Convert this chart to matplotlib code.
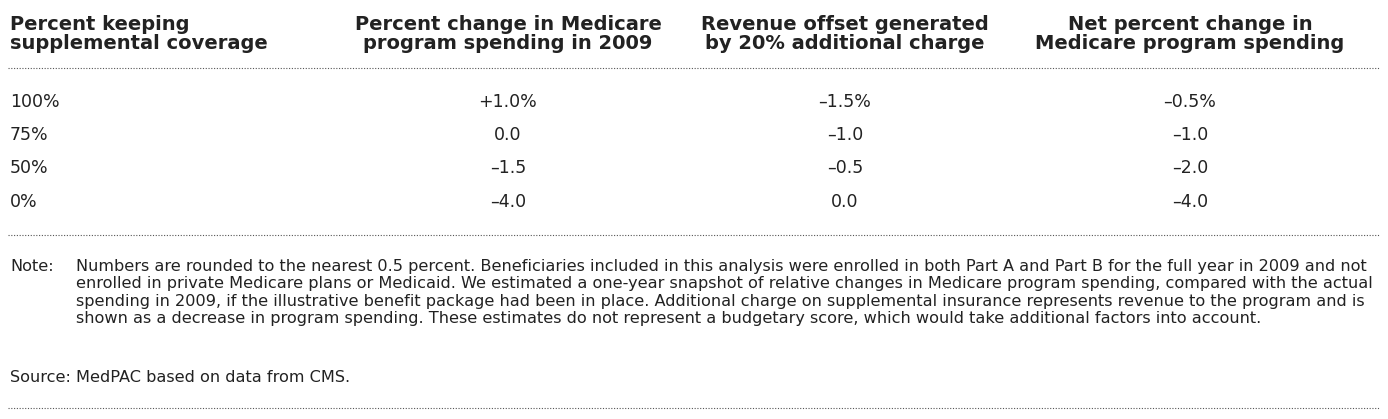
import matplotlib.pyplot as plt

headers = ["Percent keeping\nsupplemental coverage",
           "Percent change in Medicare\nprogram spending in 2009",
           "Revenue offset generated\nby 20% additional charge",
           "Net percent change in\nMedicare program spending"]
coverage = ["100%", "75%", "50%", "0%"]
spending_change = ["+1.0%", "0.0", "\u20131.5", "\u20134.0"]
revenue_offset = ["\u20131.5%", "\u20131.0", "\u20130.5", "0.0"]
net_change = ["\u20130.5%", "\u20131.0", "\u20132.0", "\u20134.0"]

note = ("Numbers are rounded to the nearest 0.5 percent. Beneficiaries included in this analysis were enrolled in both Part A and Part B for the full year in 2009 and not\n"
        "enrolled in private Medicare plans or Medicaid. We estimated a one-year snapshot of relative changes in Medicare program spending, compared with the actual\n"
        "spending in 2009, if the illustrative benefit package had been in place. Additional charge on supplemental insurance represents revenue to the program and is\n"
        "shown as a decrease in program spending. These estimates do not represent a budgetary score, which would take additional factors into account.")
source = "MedPAC based on data from CMS."

W, H = 1388, 419
fig = plt.figure(figsize=(W / 100, H / 100), dpi=100)
ax = fig.add_axes([0, 0, 1, 1])
ax.set_xlim(0, W)
ax.set_ylim(H, 0)
ax.axis("off")

col_x = [10, 508, 845, 1190]
ax.text(col_x[0], 34, headers[0], ha="left", va="center", fontsize=14,
        fontweight="bold", color="#222222", linespacing=1.0)
for x, h in zip(col_x[1:], headers[1:]):
    ax.text(x, 34, h, ha="center", va="center", fontsize=14,
            fontweight="bold", color="#222222", linespacing=1.0)

for y in [68, 235, 408]:
    ax.plot([8, 1380], [y, y], color="#555555", lw=0.8, ls=(0, (1, 1.5)))

row_y = [102, 135, 168, 202]
for i, y in enumerate(row_y):
    ax.text(col_x[0], y, coverage[i], ha="left", va="center", fontsize=12.5, color="#222222")
    ax.text(col_x[1], y, spending_change[i], ha="center", va="center", fontsize=12.5, color="#222222")
    ax.text(col_x[2], y, revenue_offset[i], ha="center", va="center", fontsize=12.5, color="#222222")
    ax.text(col_x[3], y, net_change[i], ha="center", va="center", fontsize=12.5, color="#222222")

ax.text(10, 259, "Note:", ha="left", va="top", fontsize=11.6, color="#222222")
ax.text(76, 259, note, ha="left", va="top", fontsize=11.6, color="#222222", linespacing=1.2)
ax.text(10, 370, "Source:", ha="left", va="top", fontsize=11.6, color="#222222")
ax.text(76, 370, source, ha="left", va="top", fontsize=11.6, color="#222222")

fig.savefig("out.png", dpi=100)
